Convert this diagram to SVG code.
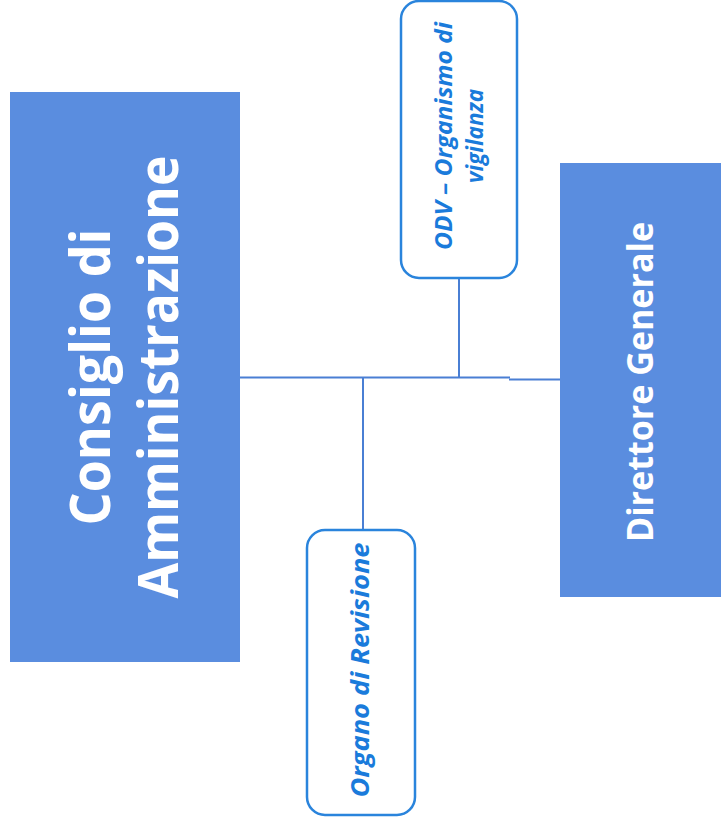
<svg xmlns="http://www.w3.org/2000/svg" width="721" height="832" viewBox="0 0 721 832">
<style>
.big{fill:#5a8ddf}
.bigtxt{fill:#ffffff;font-family:"Open Sans","DejaVu Sans",sans-serif;font-weight:700;text-anchor:middle}
.rnd{fill:#ffffff;stroke:#2a84dc;stroke-width:2.5}
.rndtxt{fill:#1a7bdb;font-family:"Open Sans","DejaVu Sans",sans-serif;font-weight:700;font-style:italic;text-anchor:middle}
.conn{stroke:#4a7fd4;stroke-width:2;fill:none}
</style>
<rect width="721" height="832" fill="#ffffff"/>
<g id="connectors">
<path class="conn" d="M240 377.5 H510"/>
<path class="conn" d="M509 379.5 H560"/>
<path class="conn" d="M459 278 V377.5"/>
<path class="conn" d="M363 377.5 V530"/>
</g>
<g id="consiglio">
<rect class="big" x="10" y="92" width="230" height="570"/>
<g transform="translate(0,377) rotate(-90)">
<text class="bigtxt" x="0" y="110" font-size="56" textLength="297" lengthAdjust="spacingAndGlyphs">Consiglio di</text>
<text class="bigtxt" x="0" y="178" font-size="56" textLength="443" lengthAdjust="spacingAndGlyphs">Amministrazione</text>
</g>
</g>
<g id="direttore">
<rect class="big" x="560" y="163" width="170" height="434"/>
<g transform="translate(0,382) rotate(-90)">
<text class="bigtxt" x="0" y="653" font-size="35" textLength="320" lengthAdjust="spacingAndGlyphs">Direttore Generale</text>
</g>
</g>
<g id="odv">
<rect class="rnd" x="401" y="1" width="116" height="277" rx="18" ry="18"/>
<g transform="translate(0,136) rotate(-90)">
<text class="rndtxt" x="0" y="452" font-size="24" textLength="228" lengthAdjust="spacingAndGlyphs">ODV – Organismo di</text>
<text class="rndtxt" x="0" y="483" font-size="24" textLength="94" lengthAdjust="spacingAndGlyphs">vigilanza</text>
</g>
</g>
<g id="organo">
<rect class="rnd" x="307" y="530" width="108" height="285" rx="18" ry="18"/>
<g transform="translate(0,670) rotate(-90)">
<text class="rndtxt" x="0" y="369" font-size="25" textLength="255" lengthAdjust="spacingAndGlyphs">Organo di Revisione</text>
</g>
</g>
</svg>
